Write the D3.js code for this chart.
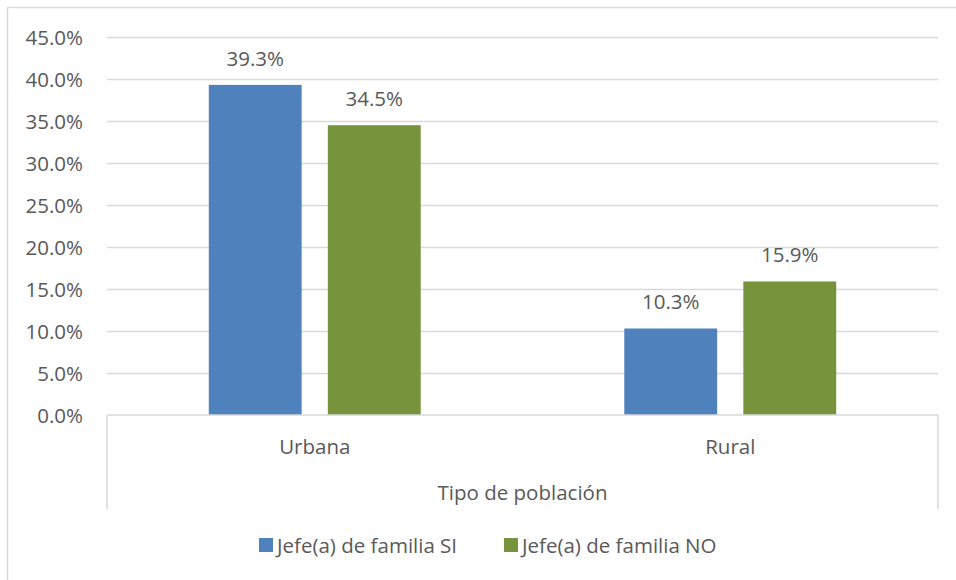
<!DOCTYPE html>
<html>
<head>
<meta charset="utf-8">
<script src="https://cdn.jsdelivr.net/npm/d3@7"></script>
<style>
  body { margin: 0; background: #fff; }
  text { font-family: "Open Sans", sans-serif; fill: #595959; }
</style>
</head>
<body>
<svg id="chart" width="956" height="580"></svg>
<script>
const categories = ["Urbana", "Rural"]
const seriesNames = ["Jefe(a) de familia SI", "Jefe(a) de familia NO"]
const jefeSi = [39.3, 10.3]
const jefeNo = [34.5, 15.9]
const yTicks = [0, 5, 10, 15, 20, 25, 30, 35, 40, 45]
const colors = ["#4f81bd", "#77933c"]

const data = categories.map((c, i) => ({ cat: c, values: [jefeSi[i], jefeNo[i]] }))

const margin = { top: 37, right: 18, bottom: 165, left: 107 }
const width = 956, height = 580
const fs = 20.5

const svg = d3.select("#chart")

// chart border
svg.append("rect")
  .attr("x", 7.5).attr("y", 7.5)
  .attr("width", 960).attr("height", 600)
  .attr("fill", "none").attr("stroke", "#d9d9d9").attr("stroke-width", 1.5)

const y = d3.scaleLinear()
  .domain([0, 45])
  .range([height - margin.bottom, margin.top])

const x = d3.scaleBand()
  .domain(categories)
  .range([margin.left, width - margin.right])
  .paddingInner(0).paddingOuter(0)

const x1 = d3.scaleBand()
  .domain(seriesNames)
  .range([0, x.bandwidth()])
  .paddingInner(0.22)
  .paddingOuter(0.855)

// gridlines
svg.append("g")
  .selectAll("line")
  .data(yTicks.filter(d => d > 0))
  .join("line")
    .attr("x1", margin.left).attr("x2", width - margin.right)
    .attr("y1", d => Math.round(y(d)) + 0.5).attr("y2", d => Math.round(y(d)) + 0.5)
    .attr("stroke", "#d9d9d9").attr("stroke-width", 1.5)

// y axis labels
const yAxis = d3.axisLeft(y).tickValues(yTicks).tickSize(0).tickPadding(24)
  .tickFormat(d => d.toFixed(1) + "%")
svg.append("g")
  .attr("transform", `translate(${margin.left},0)`)
  .call(yAxis)
  .call(g => g.select(".domain").remove())
  .call(g => g.selectAll("text").attr("font-size", fs).attr("font-family", null).attr("fill", null).attr("dy", "0.35em"))

// bars
const groups = svg.append("g")
  .selectAll("g")
  .data(data)
  .join("g")
    .attr("transform", d => `translate(${x(d.cat)},0)`)

groups.selectAll("rect")
  .data(d => d.values.map((v, i) => ({ key: seriesNames[i], v, i })))
  .join("rect")
    .attr("x", d => x1(d.key))
    .attr("y", d => y(d.v))
    .attr("width", x1.bandwidth())
    .attr("height", d => y(0) - y(d.v))
    .attr("fill", d => colors[d.i])

groups.selectAll("text.lbl")
  .data(d => d.values.map((v, i) => ({ key: seriesNames[i], v, i })))
  .join("text")
    .attr("class", "lbl")
    .attr("x", d => x1(d.key) + x1.bandwidth() / 2)
    .attr("y", d => y(d.v) - 19)
    .attr("text-anchor", "middle")
    .attr("font-size", fs)
    .text(d => d.v.toFixed(1) + "%")

// category axis (multi-level style)
const axisG = svg.append("g")
axisG.append("line")
  .attr("x1", margin.left).attr("x2", width - margin.right)
  .attr("y1", y(0)).attr("y2", y(0))
  .attr("stroke", "#d9d9d9").attr("stroke-width", 1.5)

const seps = [margin.left, width - margin.right]
axisG.selectAll("line.sep")
  .data(seps)
  .join("line")
    .attr("class", "sep")
    .attr("x1", d => d).attr("x2", d => d)
    .attr("y1", y(0)).attr("y2", 509)
    .attr("stroke", "#d9d9d9").attr("stroke-width", 1.5)

axisG.selectAll("text.cat")
  .data(categories)
  .join("text")
    .attr("class", "cat")
    .attr("x", d => x(d) + x.bandwidth() / 2)
    .attr("y", 454)
    .attr("text-anchor", "middle")
    .attr("font-size", fs)
    .text(d => d)

svg.append("text")
  .attr("x", (margin.left + width - margin.right) / 2)
  .attr("y", 500)
  .attr("text-anchor", "middle")
  .attr("font-size", fs)
  .text("Tipo de población")

// legend
const legendX = [259, 504]
const legend = svg.append("g")
  .selectAll("g")
  .data(seriesNames)
  .join("g")
    .attr("transform", (d, i) => `translate(${legendX[i]},538)`)
legend.append("rect")
  .attr("width", 14).attr("height", 14)
  .attr("fill", (d, i) => colors[i])
legend.append("text")
  .attr("x", 18).attr("y", 14.5)
  .attr("font-size", fs)
  .text(d => d)
</script>
</body>
</html>
